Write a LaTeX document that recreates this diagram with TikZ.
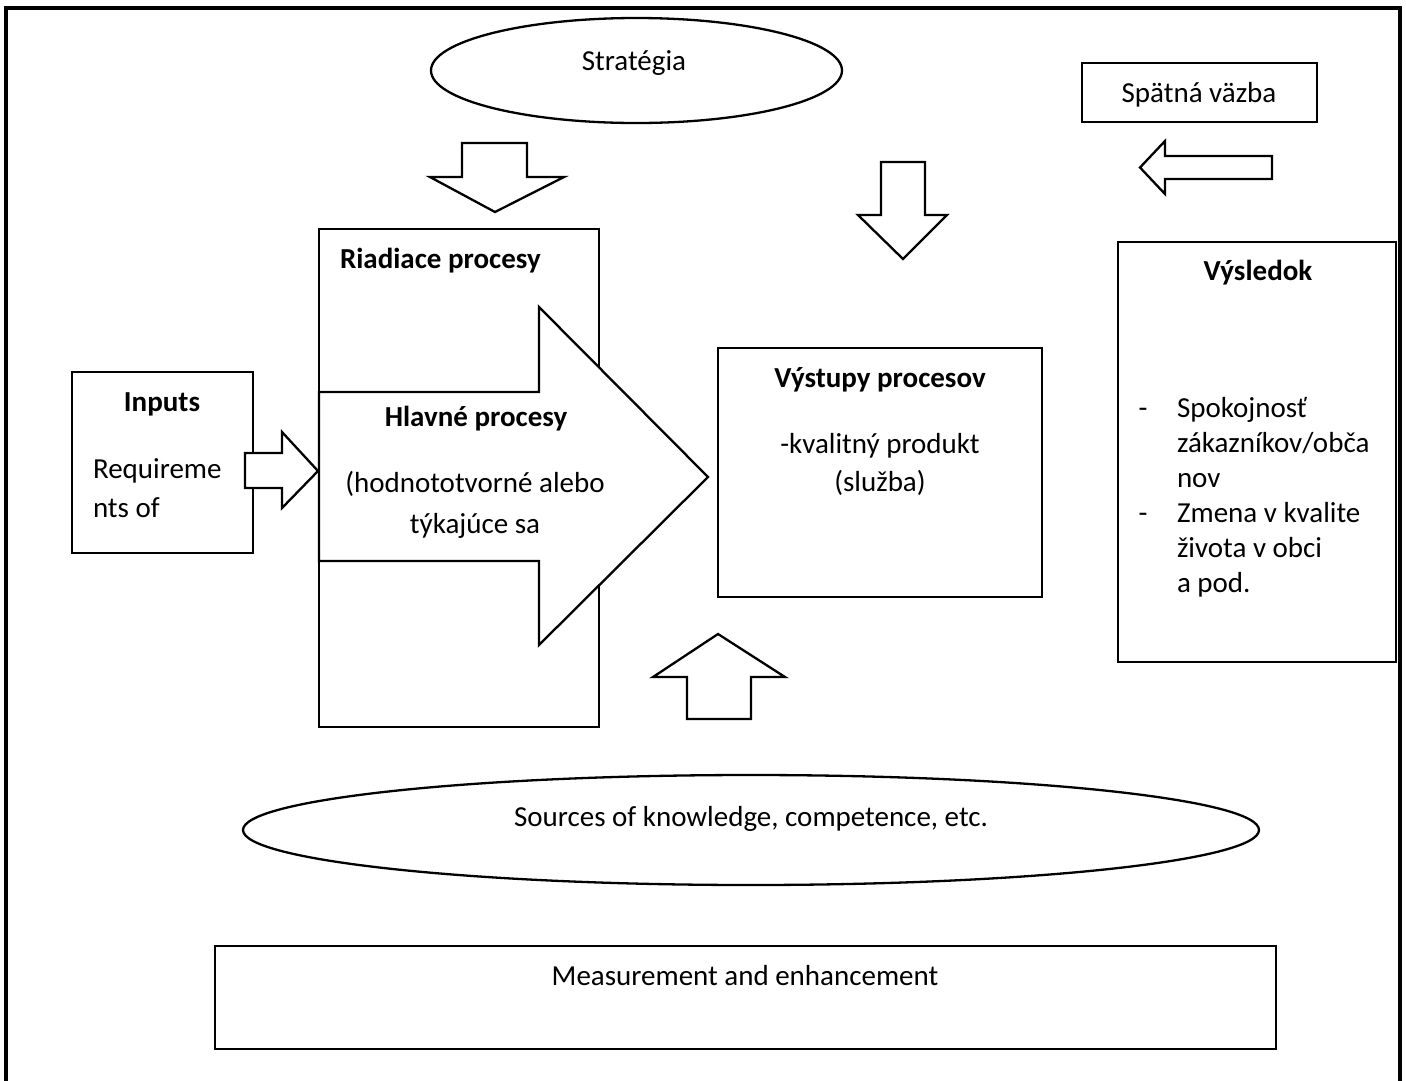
\documentclass[tikz,border=0pt]{standalone}
\usepackage{fontspec}
\setmainfont{Carlito}
\usetikzlibrary{shapes.geometric}
\begin{document}
\begin{tikzpicture}[x=1pt,y=-1pt,
  every node/.style={font=\fontsize{29}{35}\selectfont, inner sep=0pt, outer sep=0pt},
  blk/.style={line width=2.3pt, draw=black, fill=white, line join=miter},
  boxst/.style={draw=black, line width=2.3pt, fill=white, rectangle, inner sep=0pt},
  oval/.style={draw=black, line width=2.3pt, fill=white, ellipse, inner sep=0pt},
  txt/.style={anchor=base},
  bold/.style={anchor=base, font=\fontsize{29}{35}\selectfont\bfseries}]
\clip (0,0) rectangle (1406,1080);
\fill[white] (0,0) rectangle (1406,1080);
% outer frame (open at the bottom)
\draw[line width=3.5pt] (6,1100) -- (6,8) -- (1400,8) -- (1400,1100);

% ellipses
\node[oval, minimum width=411pt, minimum height=105pt] (strategia) at (636.5,70.5) {};
\node[oval, minimum width=1016pt, minimum height=110pt] (sources) at (751,830) {};

% boxes
\node[boxst, minimum width=280pt, minimum height=498pt] (riadiace) at (459,478) {};
\node[boxst, minimum width=181pt, minimum height=181pt] (inputs) at (162.5,462.5) {};
\node[boxst, minimum width=324pt, minimum height=249pt] (vystupy) at (880,472.5) {};
\node[boxst, minimum width=235pt, minimum height=59pt] (spatna) at (1199.5,92.5) {};
\node[boxst, minimum width=278pt, minimum height=420pt] (vysledok) at (1257,452) {};
\node[boxst, minimum width=1061pt, minimum height=103pt] (measure) at (745.5,997.5) {};

% block arrows
\draw[blk] (462,143) -- (527,143) -- (527,177) -- (564,177) -- (495,212) -- (430,177) -- (462,177) -- cycle;
\draw[blk] (881,162) -- (925,162) -- (925,215) -- (947,215) -- (903,259) -- (858,215) -- (881,215) -- cycle;
\draw[blk] (687,719) -- (687,677) -- (653,677) -- (718,634) -- (785,677) -- (751,677) -- (751,719) -- cycle;
\draw[blk] (1272,156) -- (1165,156) -- (1165,141) -- (1140,167.5) -- (1165,194) -- (1165,179) -- (1272,179) -- cycle;
\draw[blk] (245,453) -- (282,453) -- (282,432) -- (318,471) -- (282,508) -- (282,488) -- (245,488) -- cycle;
\draw[blk] (319,392) -- (539,392) -- (539,307) -- (708,477) -- (539,645) -- (539,561) -- (319,561) -- cycle;

% texts
\node[txt] (tstrat) at (634,70) {Stratégia};
\node[txt] (tspat) at (1199,102) {Spätná väzba};
\node[bold, anchor=base west] (triad) at (340,268) {Riadiace procesy};
\node[bold] (thlav) at (476,426) {Hlavné procesy};
\node[txt] (thod1) at (475,492) {(hodnototvorné alebo};
\node[txt] (thod2) at (475,533) {týkajúce sa};
\node[bold] (tinp) at (162,411) {Inputs};
\node[txt, anchor=base west] (treq1) at (93,478) {Requireme};
\node[txt, anchor=base west] (treq2) at (93,517) {nts of};
\node[bold] (tvyst) at (880,387) {Výstupy procesov};
\node[txt] (tkval) at (880,453) {-kvalitný produkt};
\node[txt] (tsluz) at (880,491) {(služba)};
\node[bold] (tvysl) at (1258,280) {Výsledok};
\node[txt] (tdash1) at (1143,417) {-};
\node[txt] (tdash2) at (1143,522) {-};
\node[txt, anchor=base west] (tl1) at (1177,417) {Spokojnosť};
\node[txt, anchor=base west] (tl2) at (1177,452) {zákazníkov/obča};
\node[txt, anchor=base west] (tl3) at (1177,487) {nov};
\node[txt, anchor=base west] (tl4) at (1177,522) {Zmena v kvalite};
\node[txt, anchor=base west] (tl5) at (1177,557) {života v obci};
\node[txt, anchor=base west] (tl6) at (1177,592) {a pod.};
\node[txt] (tsrc) at (751,826) {Sources of knowledge, competence, etc.};
\node[txt] (tmeas) at (745,985) {Measurement and enhancement};
\end{tikzpicture}
\end{document}
